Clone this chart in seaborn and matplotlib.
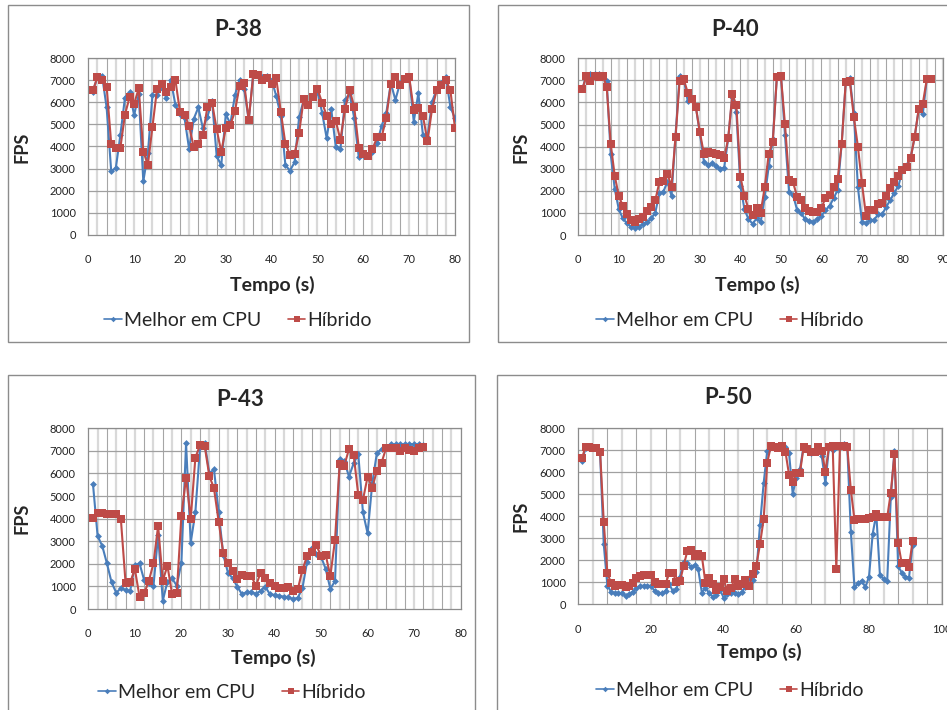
import numpy as np
import pandas as pd
import matplotlib
matplotlib.use('Agg')
import matplotlib.pyplot as plt
from matplotlib.patches import Rectangle
import seaborn as sns

# ================= dados (FPS por segundo) =================
p38_cpu = [6490, 7170, 7215, 5770, 2870, 3020, 4530, 6220, 6450, 5420,
           6370, 2420, 3700, 6340, 6340, 6640, 6220, 7020, 5890, 5460,
           5280, 3880, 5250, 5770, 4820, 5360, 6070, 3580, 3140, 5460,
           5030, 6340, 7020, 6610, 5190, 7320, 7200, 7170, 7200, 7020,
           6290, 5390, 3150, 2910, 3280, 5330, 6110, 5890, 6260, 6490,
           5540, 4380, 5690, 3970, 3880, 6110, 6410, 5310, 3520, 3620,
           3580, 3760, 4150, 4940, 5510, 6870, 6110, 6870, 7090, 7200,
           5130, 6410, 4530, 4450, 6040, 6570, 6870, 7170, 5780, 5280]
p38_hib = [6550, 7140, 7020, 6720, 4120, 3950, 3950, 5450, 6230, 5930,
           6640, 3770, 3170, 4900, 6610, 6820, 6490, 6690, 7020, 5570,
           5420, 4940, 3970, 4120, 4540, 5810, 5990, 4780, 3770, 4820,
           4980, 5600, 6760, 6870, 5190, 7290, 7245, 7020, 7090, 6840,
           7090, 5570, 4120, 3620, 3670, 4630, 6170, 5890, 6260, 6610,
           5990, 5400, 5000, 5150, 4300, 5690, 6570, 5810, 3950, 3650,
           3580, 3890, 4410, 4440, 5280, 6840, 7170, 6780, 7060, 7170,
           5660, 5740, 5400, 4230, 5720, 6540, 6790, 7020, 6540, 4830]

p40_cpu = [6600, 7245, 7290, 7290, 7290, 7245, 6990, 3650, 2070, 1160,
           750, 530, 380, 330, 380, 500, 600, 750, 1010, 1890,
           1960, 2420, 1770, 4530, 7200, 7090, 6070, 6110, 5810, 4600,
           3320, 3170, 3250, 3120, 2990, 3050, 4380, 6260, 5580, 2240,
           1160, 720, 510, 750, 570, 1710, 3120, 4330, 7170, 7245,
           4530, 1960, 1810, 1130, 980, 710, 630, 600, 710, 860,
           1130, 1310, 1660, 2040, 4150, 6940, 7090, 5510, 2160, 600,
           530, 680, 680, 940, 940, 1280, 1580, 1920, 2220, 2940,
           3170, 3470, 4420, 5690, 5460, 7050, 7050]
p40_hib = [6600, 7210, 6970, 7210, 7140, 7210, 6720, 4120, 2670, 1770,
           1310, 950, 680, 600, 720, 830, 1070, 1280, 1580, 2380,
           2460, 2760, 2190, 4450, 6970, 7060, 6450, 6170, 5810, 4650,
           3670, 3770, 3700, 3650, 3620, 3470, 4380, 6370, 5890, 2640,
           1770, 1180, 910, 1240, 1010, 2160, 3670, 4230, 7140, 7200,
           5030, 2490, 2380, 1740, 1580, 1210, 1090, 1030, 1030, 1210,
           1690, 1810, 2190, 2540, 4120, 6940, 6970, 5330, 4000, 2340,
           875, 1130, 1130, 1400, 1460, 1780, 2140, 2380, 2670, 2940,
           3090, 3470, 4450, 5690, 5930, 7050, 7050]

p43_cpu = [5540, 3230, 2790, 2020, 1180, 720, 920, 840, 810, 1930,
           2020, 1280, 1140, 1020, 3280, 370, 1210, 1360, 1030, 2050,
           7340, 2940, 4280, 7160, 7370, 6010, 6180, 4310, 2390, 1610,
           1360, 990, 660, 740, 740, 680, 800, 990, 660, 620,
           580, 550, 520, 440, 500, 920, 2100, 2690, 2440, 2320,
           1770, 890, 1240, 6640, 6550, 5860, 6450, 6850, 4280, 3350,
           5560, 6920, 7070, 7190, 7290, 7290, 7290, 7290, 7290, 7290,
           7290, 7250]
p43_hib = [4010, 4270, 4240, 4210, 4210, 4210, 3970, 1170, 1180, 1770,
           550, 690, 1240, 2020, 3680, 1250, 1920, 660, 690, 4130,
           5820, 3990, 6700, 7260, 7220, 5890, 5340, 3870, 2460, 2050,
           1700, 1310, 1510, 1480, 1480, 1020, 1600, 1360, 1140, 1030,
           945, 945, 960, 810, 870, 1730, 2350, 2540, 2820, 2350,
           2390, 1460, 3060, 6420, 6350, 7080, 6830, 5050, 4830, 5860,
           5370, 6130, 6480, 7140, 7140, 7110, 7000, 7110, 7040, 7000,
           7110, 7160]

p50_cpu = [6530, 7090, 7090, 7090, 7090, 6860, 2740, 850, 580, 500,
           500, 500, 390, 470, 580, 730, 830, 850, 850, 830,
           610, 530, 500, 610, 920, 610, 680, 1260, 1940, 1890,
           1710, 1790, 1590, 530, 760, 500, 350, 420, 650, 300,
           470, 500, 530, 470, 550, 800, 1180, 1110, 1450, 3610,
           5500, 6980, 7200, 7170, 7090, 7240, 7140, 6860, 5020, 5760,
           6140, 7200, 7020, 6860, 6910, 7140, 6740, 5500, 7170, 7020,
           7170, 7240, 7290, 7240, 3300, 770, 950, 1080, 770, 1260,
           3200, 4110, 1330, 1140, 1060, 4890, 6980, 1740, 1440, 1260,
           1210, 2700]
p50_hib = [6640, 7170, 7140, 7120, 7120, 6940, 3760, 1410, 980, 850,
           880, 880, 770, 850, 950, 1180, 1290, 1330, 1330, 1330,
           1030, 910, 910, 910, 1410, 1410, 1030, 1060, 1760, 2420,
           2470, 2200, 2270, 2200, 950, 1180, 910, 650, 800, 1140,
           610, 730, 1150, 850, 920, 1110, 850, 1360, 1760, 2740,
           3860, 6440, 7200, 7140, 7090, 7210, 6940, 5880, 5580, 5980,
           5980, 7140, 7060, 6910, 6940, 7140, 6970, 6030, 7170, 7200,
           1590, 7210, 7210, 7170, 5200, 3830, 3880, 3880, 3880, 3910,
           3950, 4090, 3950, 3950, 3950, 5080, 6820, 2800, 1860, 1860,
           1710, 2890]

titulos = ['P-38', 'P-40', 'P-43', 'P-50']
series_cpu = [p38_cpu, p40_cpu, p43_cpu, p50_cpu]
series_hib = [p38_hib, p40_hib, p43_hib, p50_hib]
eixo_x_max = [80, 90, 80, 100]
eixo_x_passo = [10, 10, 10, 20]
grade_x_passo = [2, 2, 2, 4]

# ================= layout (em pixels da imagem 947x710) =================
W, H = 947, 710
# (esq, topo, dir, base) da área de plotagem
areas = [(88.3, 58.3, 455, 234.7), (578.3, 58.3, 943, 235),
         (88.3, 428.3, 460.7, 609), (578.3, 428.3, 941.7, 604.3)]
molduras = [(8, 5, 469, 342), (497.7, 5, 960, 342),
            (8, 375, 475, 720), (497, 375, 960, 720)]
pos_titulo = [(238, 30), (735, 30), (240, 400), (728, 398)]
pos_xlabel = [(272, 285), (757, 285), (273, 658), (759, 652)]
pos_legenda = [(238, 320), (730, 320), (232, 692), (730, 690)]
pos_ylabel = [(22, 147), (521, 147), (22, 518), (521, 516)]

cor_cpu = '#4A7EBB'
cor_hib = '#BE4B48'

sns.set_theme(style='white')
plt.rcParams['font.family'] = ['Lato', 'DejaVu Sans']

fig = plt.figure(figsize=(W / 100, H / 100), dpi=100)
fig.patch.set_facecolor('white')


def fx(px):
    return px / W


def fy(py):
    return 1 - py / H


for i in range(4):
    # moldura do gráfico
    l, t, r, b = molduras[i]
    fig.patches.append(Rectangle((fx(l), fy(b)), fx(r) - fx(l), fy(t) - fy(b),
                                 transform=fig.transFigure, fill=False,
                                 edgecolor='#8c8c8c', linewidth=1.0, zorder=0))

    l, t, r, b = areas[i]
    ax = fig.add_axes([fx(l), fy(b), fx(r) - fx(l), fy(t) - fy(b)])

    df = pd.DataFrame({
        'Tempo': np.arange(1, len(series_cpu[i]) + 1),
        'cpu': series_cpu[i],
        'hib': series_hib[i],
    })

    xmax = eixo_x_max[i]
    # grade vertical (alternando tons como no Excel)
    for k, gx in enumerate(np.arange(grade_x_passo[i], xmax + 0.1, grade_x_passo[i])):
        if k % 2 == 0:
            ax.axvline(gx, color='#d9d9d9', linewidth=1.6, zorder=0)
        else:
            ax.axvline(gx, color='#a6a6a6', linewidth=0.8, zorder=0)
    for gy in range(1000, 8001, 1000):
        ax.axhline(gy, color='#a0a0a0', linewidth=0.9, zorder=0)

    sns.lineplot(data=df, x='Tempo', y='cpu', ax=ax, color=cor_cpu,
                 linewidth=1.5, marker='D', markersize=3.5, markeredgewidth=0,
                 label='Melhor em CPU', legend=False, zorder=3)
    sns.lineplot(data=df, x='Tempo', y='hib', ax=ax, color=cor_hib,
                 linewidth=1.5, marker='s', markersize=5.5, markeredgewidth=0,
                 label='Híbrido', legend=False, zorder=4)

    ax.set_xlim(0, xmax)
    ax.set_ylim(0, 8000)
    ax.set_xticks(np.arange(0, xmax + 1, eixo_x_passo[i]))
    ax.set_yticks(np.arange(0, 8001, 1000))
    ax.tick_params(axis='both', length=0, labelsize=8, colors='#222222')
    ax.tick_params(axis='x', pad=14)
    ax.tick_params(axis='y', pad=9)
    ax.set_xlabel('')
    ax.set_ylabel('')
    for s in ax.spines.values():
        s.set_color('#8c8c8c')
        s.set_linewidth(0.9)
    ax.set_facecolor('white')

    fig.text(fx(pos_titulo[i][0]), fy(pos_titulo[i][1]), titulos[i],
             ha='center', va='center', fontsize=16, fontweight='bold')
    fig.text(fx(pos_xlabel[i][0]), fy(pos_xlabel[i][1]), 'Tempo (s)',
             ha='center', va='center', fontsize=14, fontweight='bold')
    fig.text(fx(pos_ylabel[i][0]), fy(pos_ylabel[i][1]), 'FPS',
             ha='center', va='center', fontsize=13, fontweight='bold',
             rotation=90)

    leg = ax.legend(loc='center', bbox_to_anchor=(fx(pos_legenda[i][0]), fy(pos_legenda[i][1])),
                    bbox_transform=fig.transFigure, ncol=2, frameon=False, fontsize=14,
                    handlelength=0.9, handletextpad=0.1, columnspacing=1.4,
                    borderaxespad=0)
    for h in leg.get_lines():
        h.set_linewidth(1.2)
        h.set_markersize(h.get_markersize() * 0.8)

fig.savefig('out.png', dpi=100, facecolor='white')
